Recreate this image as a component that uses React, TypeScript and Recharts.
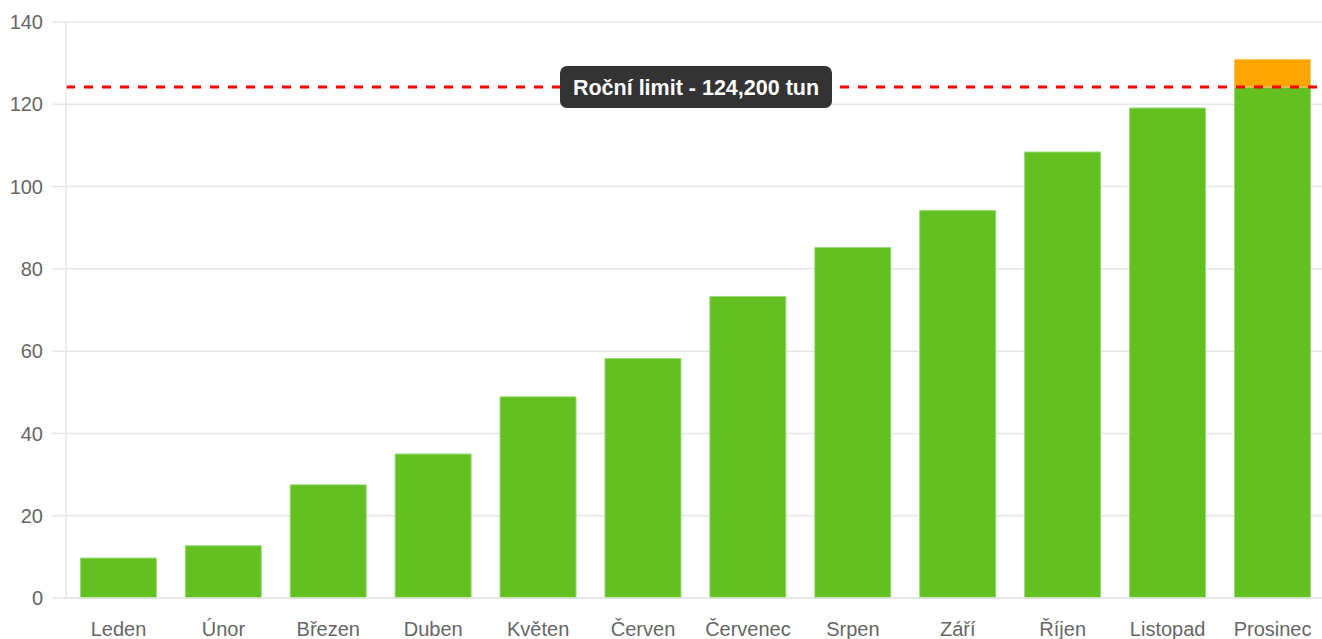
import React from 'react'
import {
  BarChart,
  Bar,
  XAxis,
  YAxis,
  CartesianGrid,
  ReferenceLine,
} from 'recharts'

const months = [
  'Leden',
  'Únor',
  'Březen',
  'Duben',
  'Květen',
  'Červen',
  'Červenec',
  'Srpen',
  'Září',
  'Říjen',
  'Listopad',
  'Prosinec',
]

// cumulative tonnes (thousands)
const totals = [9.7, 12.7, 27.5, 35.0, 48.9, 58.2, 73.3, 85.2, 94.2, 108.4, 119.1, 130.9]

const limit = 124.2
const limitLabel = 'Roční limit - 124,200 tun'
const yTicks = [0, 20, 40, 60, 80, 100, 120, 140]

const data = months.map((month, i) => ({
  month,
  within: Math.min(totals[i], limit),
  over: Math.max(totals[i] - limit, 0),
}))

const font = '"Liberation Sans", Arial, sans-serif'
const gridColor = '#e6e6e6'

function LimitLabel(props: any) {
  const { viewBox } = props
  const cx = 696
  const cy = viewBox.y
  const w = 272
  const h = 42
  return (
    <g>
      <rect x={cx - w / 2} y={cy - h / 2} width={w} height={h} rx={7} fill="#333333" />
      <text
        x={cx}
        y={cy}
        dy="0.36em"
        textAnchor="middle"
        fill="#fff"
        fontSize={21.5}
        fontWeight="bold"
        fontFamily={font}
      >
        {limitLabel}
      </text>
    </g>
  )
}

export default function App() {
  return (
    <div
      style={{
        position: 'absolute',
        left: 0,
        top: 0,
        width: 1322,
        height: 639,
        overflow: 'hidden',
        fontFamily: font,
      }}
    >
      <BarChart
        width={1325}
        height={639}
        data={data}
        margin={{ top: 22, right: 0, left: 0, bottom: 0 }}
        barCategoryGap="13.7%"
      >
        <CartesianGrid vertical={false} stroke={gridColor} strokeWidth={1.5} />
        <XAxis
          dataKey="month"
          height={41}
          tickLine={false}
          tickSize={0}
          tickMargin={24}
          axisLine={{ stroke: gridColor, strokeWidth: 1.5 }}
          tick={{ fill: '#666', fontSize: 20, fontFamily: font }}
          interval={0}
        />
        <YAxis
          width={66}
          domain={[0, 140]}
          ticks={yTicks}
          tickSize={14}
          tickMargin={9}
          tickLine={{ stroke: gridColor, strokeWidth: 1.5 }}
          axisLine={{ stroke: gridColor, strokeWidth: 1.5 }}
          tick={{ fill: '#666', fontSize: 20, fontFamily: font }}
        />
        <Bar
          dataKey="within"
          stackId="a"
          fill="#62c020"
          stroke="#9bd97a"
          strokeWidth={1}
          isAnimationActive={false}
        />
        <Bar
          dataKey="over"
          stackId="a"
          fill="#ffa500"
          stroke="#ffc35a"
          strokeWidth={1}
          isAnimationActive={false}
        />
        <ReferenceLine
          y={limit}
          stroke="#ff0000"
          strokeWidth={3}
          strokeDasharray="9 9"
          label={<LimitLabel />}
        />
      </BarChart>
    </div>
  )
}
